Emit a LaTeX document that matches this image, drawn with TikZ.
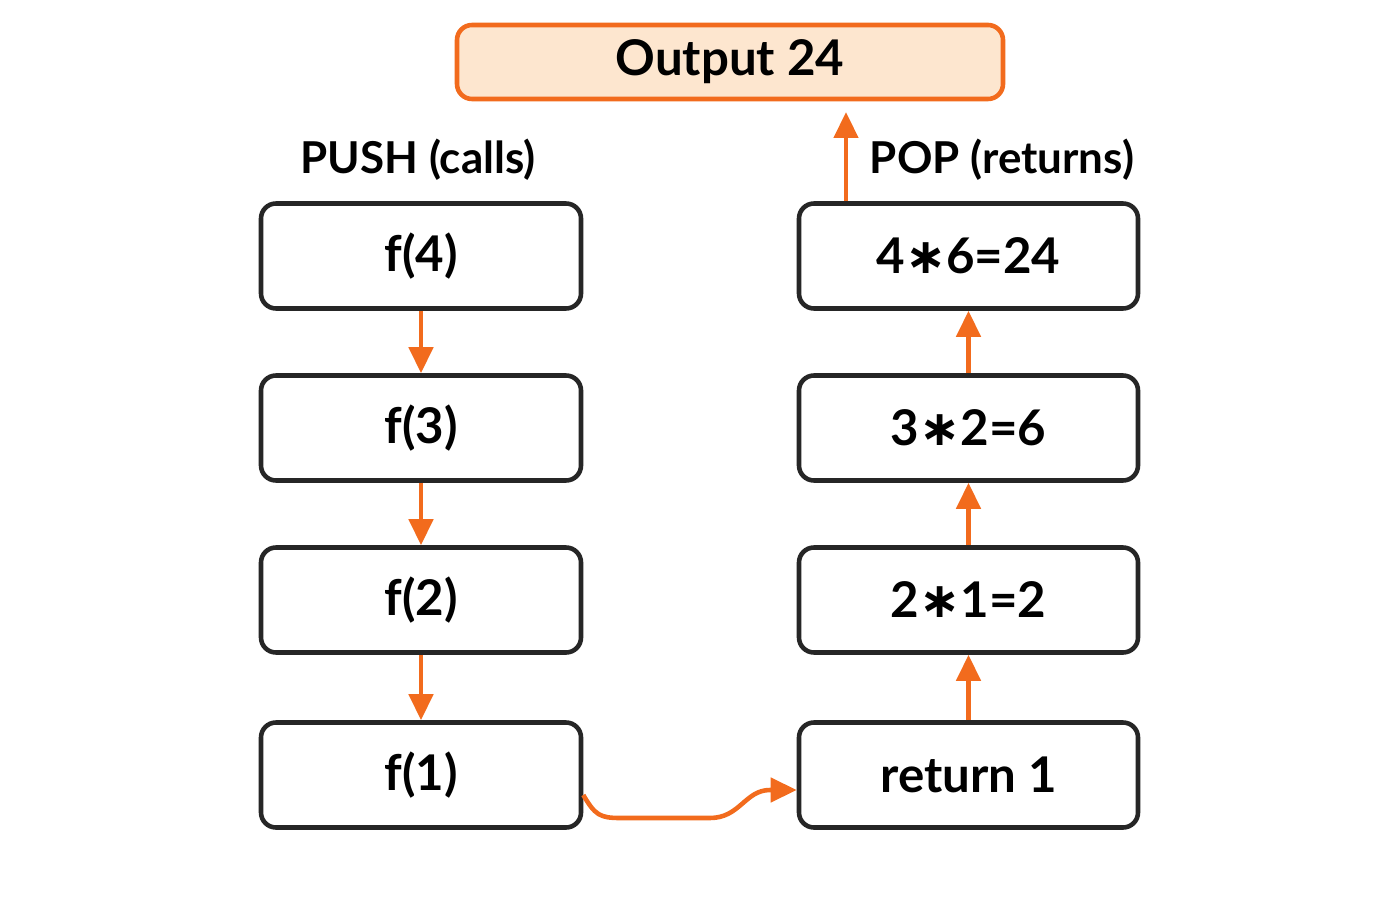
\documentclass[tikz,border=0pt]{standalone}
\usepackage{fontspec}
\setmainfont{Lato}
\newfontfamily\symfont{DejaVu Sans}
\usetikzlibrary{arrows.meta,positioning}
\definecolor{popColor}{HTML}{F26B1D}
\definecolor{outFill}{HTML}{FDE6CF}
\tikzset{
	frame/.style={draw=black!85, line width=1.3pt, rounded corners=1.5mm, minimum height=1.05cm, font=\bfseries\fontsize{14}{17}\selectfont},
	callbox/.style={frame, minimum width=3.2cm},
	retbox/.style={frame, minimum width=3.39cm},
	flow/.style={-{Triangle[length=2.6mm,width=2.4mm]}, draw=popColor, line width=1.3pt},
	head/.style={font=\bfseries\fontsize{12.5}{15}\selectfont}
}
\newcommand{\mul}{{\symfont∗}}
\begin{document}
\begin{tikzpicture}
	\useasboundingbox (0,0) rectangle (14,9);
	\node[draw=popColor, fill=outFill, line width=1.3pt, rounded corners=1.5mm, minimum width=5.46cm, minimum height=0.74cm, font=\bfseries\fontsize{14}{17}\selectfont] (out) at (7.30,8.38) {Output 24};
	\node[head] (push) at (4.18,7.40) {PUSH (calls)};
	\node[head] (pop) at (10.02,7.40) {POP (returns)};
	% calls
	\node[callbox] (f4) at (4.21,6.44) {f(4)};
	\node[callbox] (f3) at (4.21,4.72) {f(3)};
	\node[callbox] (f2) at (4.21,3.00) {f(2)};
	\node[callbox] (f1) at (4.21,1.25) {f(1)};
	% returns
	\node[retbox] (r4) at (9.685,6.44) {4\mul6=24};
	\node[retbox] (r3) at (9.685,4.72) {3\mul2=6};
	\node[retbox] (r2) at (9.685,3.00) {2\mul1=2};
	\node[retbox] (r1) at (9.685,1.25) {return 1};
	\foreach \a/\b in {f4/f3,f3/f2,f2/f1}
		\draw[flow] (\a) -- (\b);
	\foreach \a/\b in {r1/r2,r2/r3,r3/r4}
		\draw[flow] (\a) -- (\b);
	\draw[flow] (r4.north -| 8.46,0) -- (8.46,7.88);
	\draw[flow] (f1.east |- 0,1.05) .. controls (5.95,0.85) and (6.0,0.82) .. (6.2,0.82) -- (7.1,0.82) .. controls (7.4,0.82) and (7.45,1.10) .. (7.7,1.10) -- (r1.west |- 0,1.10);
\end{tikzpicture}
\end{document}
